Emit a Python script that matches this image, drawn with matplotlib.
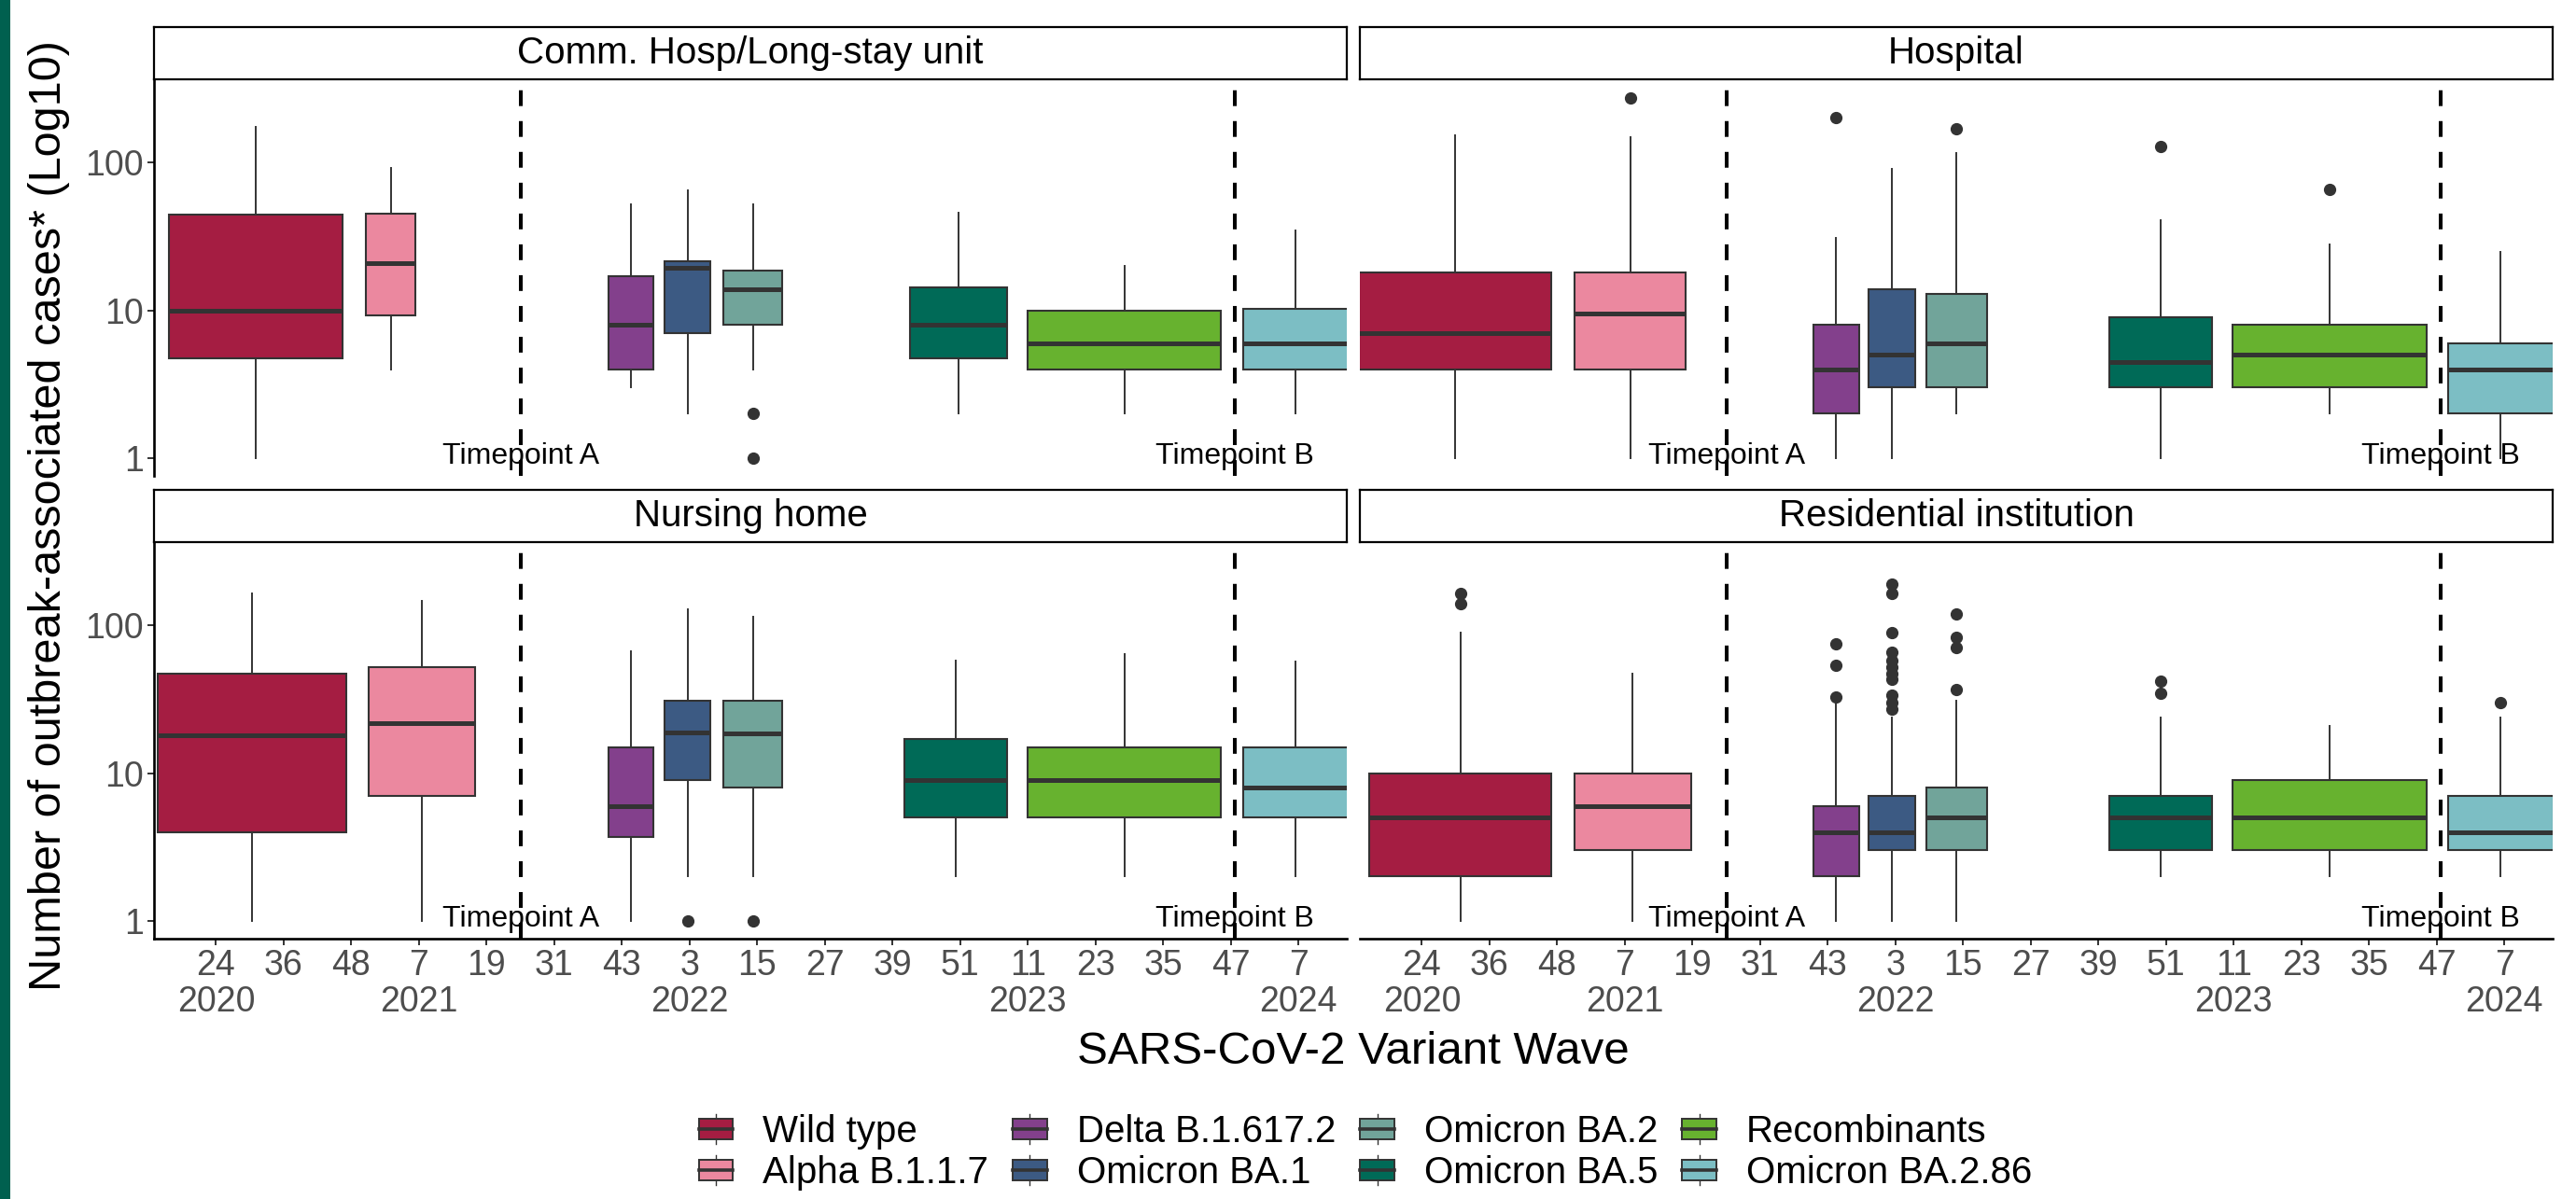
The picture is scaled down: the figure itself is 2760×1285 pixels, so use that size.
import numpy as np
import matplotlib
matplotlib.use('Agg')
import matplotlib.pyplot as plt
from matplotlib.patches import Rectangle
from matplotlib.lines import Line2D
from matplotlib.legend_handler import HandlerBase
from matplotlib.ticker import FixedLocator, NullLocator

plt.rcParams['font.family'] = ['Liberation Sans', 'DejaVu Sans']

# x values are days since 2020-06-08 (Monday of ISO week 24, 2020)
variants = ['Wild type', 'Alpha B.1.1.7', 'Delta B.1.617.2', 'Omicron BA.1',
            'Omicron BA.2', 'Omicron BA.5', 'Recombinants', 'Omicron BA.2.86']
colors = ['#A51D42', '#EB889F', '#83408C', '#3C5A83',
          '#71A49A', '#006A57', '#67B22F', '#7CBEC4']

week_labels = ['24', '36', '48', '7', '19', '31', '43', '3', '15', '27',
               '39', '51', '11', '23', '35', '47', '7']
year_labels = ['2020', '', '', '2021', '', '', '', '2022', '', '', '',
               '', '2023', '', '', '', '2024']
tick_step = 84  # 12 weeks between ticks

timepoint_names = ['Timepoint A', 'Timepoint B']
timepoint_days = [378, 1265]

panels = ['Comm. Hosp/Long-stay unit', 'Hospital', 'Nursing home',
          'Residential institution']

# box extents (first / last day of each wave in that setting) and stats
comm_x0 = [-59, 186, 487, 557, 630, 862, 1008, 1275]
comm_x1 = [157, 248, 543, 614, 703, 982, 1248, 1406]
comm_lo = [1, 4, 3, 2, 4, 2, 2, 2]
comm_q1 = [4.75, 9.2, 4, 7, 8, 4.75, 4, 4]
comm_med = [10, 21, 8, 19.5, 14, 8, 6, 6]
comm_q3 = [44.5, 45, 17, 21.5, 18.7, 14.3, 10, 10.3]
comm_hi = [175, 92, 52, 65, 52, 46, 20, 35]
comm_out = [[], [], [], [], [2, 1], [], [], []]

hosp_x0 = [-78, 189, 486, 555, 626, 853, 1006, 1274]
hosp_x1 = [161, 328, 543, 612, 702, 981, 1247, 1405]
hosp_lo = [1, 1, 1, 1, 2, 1, 2, 1]
hosp_q1 = [4, 4, 2, 3, 3, 3, 3, 2]
hosp_med = [7, 9.5, 4, 5, 6, 4.5, 5, 4]
hosp_q3 = [18, 18, 8, 14, 13, 9, 8, 6]
hosp_hi = [154, 150, 31, 91, 117, 41, 28, 25]
hosp_out = [[], [275], [202], [], [169], [129], [66], []]

nurs_x0 = [-72, 190, 487, 557, 630, 855, 1008, 1275]
nurs_x1 = [162, 322, 543, 614, 703, 982, 1248, 1406]
nurs_lo = [1, 1, 1, 2, 2, 2, 2, 2]
nurs_q1 = [4, 7, 3.7, 9, 8, 5, 5, 5]
nurs_med = [18, 22, 6, 19, 18.5, 9, 9, 8]
nurs_q3 = [47, 52, 15, 31, 31, 17, 15, 15]
nurs_hi = [164, 146, 67, 128, 115, 58, 64, 57]
nurs_out = [[], [], [], [1], [1], [], [], []]

res_x0 = [-65, 189, 486, 555, 626, 853, 1006, 1274]
res_x1 = [161, 334, 543, 612, 702, 981, 1247, 1405]
res_lo = [1, 1, 1, 1, 1, 2, 2, 2]
res_q1 = [2, 3, 2, 3, 3, 3, 3, 3]
res_med = [5, 6, 4, 4, 5, 5, 5, 4]
res_q3 = [10, 10, 6, 7, 8, 7, 9, 7]
res_hi = [89, 47, 30, 24, 31, 24, 21, 24]
res_out = [[164, 141], [], [75, 54, 33],
           [190, 165, 90, 66, 58, 52, 47, 43, 34, 30, 27],
           [120, 83, 71, 37], [42, 35], [], [30]]

panel_data = [
    (comm_x0, comm_x1, comm_lo, comm_q1, comm_med, comm_q3, comm_hi, comm_out),
    (hosp_x0, hosp_x1, hosp_lo, hosp_q1, hosp_med, hosp_q3, hosp_hi, hosp_out),
    (nurs_x0, nurs_x1, nurs_lo, nurs_q1, nurs_med, nurs_q3, nurs_hi, nurs_out),
    (res_x0, res_x1, res_lo, res_q1, res_med, res_q3, res_hi, res_out),
]

DARK = '#333333'
TICKLAB = '#4D4D4D'


class BoxKey(HandlerBase):
    # legend key drawn like a small boxplot
    def create_artists(self, legend, orig_handle, xdescent, ydescent,
                       width, height, fontsize, trans):
        x0, y0 = -xdescent, -ydescent
        cx = x0 + width / 2
        b0, b1 = y0 + height * 0.17, y0 + height * 0.83
        box = Rectangle((x0, b0), width, b1 - b0,
                        facecolor=orig_handle.get_facecolor(),
                        edgecolor=DARK, lw=1.4, transform=trans)
        med = Line2D([x0, x0 + width], [y0 + height / 2] * 2,
                     color=DARK, lw=2.6, transform=trans)
        w1 = Line2D([cx, cx], [y0, b0], color=DARK, lw=1.0, transform=trans)
        w2 = Line2D([cx, cx], [b1, y0 + height], color=DARK, lw=1.0,
                    transform=trans)
        return [w1, w2, box, med]


fig = plt.figure(figsize=(27.6, 12.85), dpi=100)
W, H = 2760, 1285

col_left = [165 / W, 1457 / W]
ax_w = 1278 / W
row_bottom = [1 - 510 / H, 1 - 1006 / H]
ax_h = 425 / H
strip_h = 56 / H

# green stripe at the left border
fig.patches.append(Rectangle((0, 0), 11 / W, 1, transform=fig.transFigure,
                             facecolor='#00604F', edgecolor='none'))

tick_pos = np.arange(len(week_labels)) * tick_step
tick_text = [w + ('\n' + y if y else '') for w, y in zip(week_labels, year_labels)]

for i, (name, data) in enumerate(zip(panels, panel_data)):
    r, c = divmod(i, 2)
    ax = fig.add_axes([col_left[c], row_bottom[r], ax_w, ax_h])
    x0, x1, lo, q1, med, q3, hi, out = data
    stats = [dict(med=m, q1=a, q3=b, whislo=l, whishi=h, fliers=f)
             for l, a, m, b, h, f in zip(lo, q1, med, q3, hi, out)]
    pos = [(a + b) / 2 for a, b in zip(x0, x1)]
    wid = [b - a for a, b in zip(x0, x1)]
    bp = ax.bxp(stats, positions=pos, widths=wid, patch_artist=True,
                showcaps=False, manage_ticks=False,
                boxprops=dict(edgecolor=DARK, linewidth=1.5),
                medianprops=dict(color=DARK, linewidth=3.6, solid_capstyle='butt'),
                whiskerprops=dict(color=DARK, linewidth=1.4),
                flierprops=dict(marker='o', markerfacecolor=DARK,
                                markeredgecolor=DARK, markersize=8.5))
    for patch, col in zip(bp['boxes'], colors):
        patch.set_facecolor(col)

    for tname, tday in zip(timepoint_names, timepoint_days):
        ax.axvline(tday, color='black', lw=2.9, dashes=(4.2, 4.0), zorder=1)
        ax.text(tday, 0.91, tname, ha='center', va='baseline',
                fontsize=23, color='black', zorder=5)

    ax.set_yscale('log')
    ax.set_xlim(-77, 1404)
    ax.set_ylim(10 ** -0.12, 10 ** 2.565)
    ax.yaxis.set_major_locator(FixedLocator([1, 10, 100]))
    ax.yaxis.set_minor_locator(NullLocator())
    ax.set_yticklabels(['1', '10', '100'])

    for s in ax.spines.values():
        s.set_visible(False)
    ax.tick_params(axis='both', which='major', length=5, width=1.4,
                   color=DARK, labelcolor=TICKLAB, labelsize=27, pad=3)

    if c == 0:
        ax.spines['left'].set_visible(True)
        ax.spines['left'].set_linewidth(1.9)
        ax.spines['left'].set_color('black')
    else:
        ax.tick_params(axis='y', left=False, labelleft=False)

    if r == 1:
        ax.spines['bottom'].set_visible(True)
        ax.spines['bottom'].set_linewidth(1.9)
        ax.spines['bottom'].set_color('black')
        ax.set_xticks(tick_pos)
        ax.set_xticklabels(tick_text)
        for lab in ax.get_xticklabels():
            lab.set_linespacing(1.1)
    else:
        ax.set_xticks([])

    # facet strip
    sax = fig.add_axes([col_left[c], row_bottom[r] + ax_h, ax_w, strip_h])
    sax.set_xticks([])
    sax.set_yticks([])
    for s in sax.spines.values():
        s.set_linewidth(1.6)
        s.set_color('black')
    sax.text(0.5, 0.5, name, ha='center', va='center', fontsize=29,
             transform=sax.transAxes)

fig.text(53 / W, 1 - 553 / H, 'Number of outbreak-associated cases* (Log10)',
         rotation=90, ha='center', va='center', fontsize=35)
fig.text(1450 / W, 1 - 1140 / H, 'SARS-CoV-2 Variant Wave',
         ha='center', va='baseline', fontsize=35.5)

handles = [Rectangle((0, 0), 1, 1, facecolor=col) for col in colors]
fig.legend(handles, variants, handler_map={Rectangle: BoxKey()},
           loc='center', bbox_to_anchor=(1463 / W, 1 - 1235 / H), ncol=4,
           frameon=False, fontsize=29, handlelength=0.9, handleheight=0.85,
           handletextpad=0.8, columnspacing=0.65, labelspacing=0.15,
           borderpad=0)

fig.savefig('out.png', dpi=100)
